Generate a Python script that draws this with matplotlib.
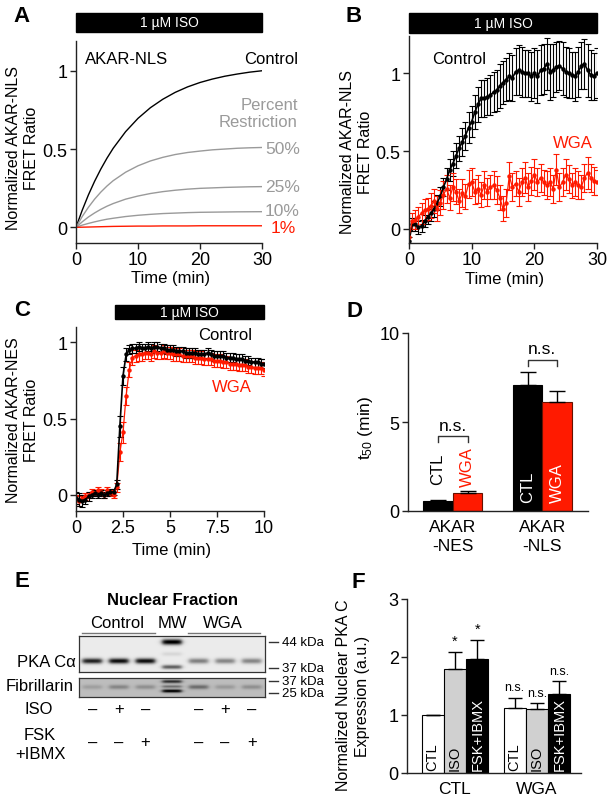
import numpy as np
import matplotlib
matplotlib.use("Agg")
import matplotlib.pyplot as plt
from matplotlib.patches import Rectangle
from matplotlib.lines import Line2D
import matplotlib.transforms as mtransforms

plt.rcParams['font.family'] = ['Liberation Sans', 'DejaVu Sans']
plt.rcParams['mathtext.fontset'] = 'custom'
plt.rcParams['mathtext.rm'] = 'Liberation Sans'
plt.rcParams['mathtext.it'] = 'Liberation Sans'

RED = '#ff1a00'
GREY = '#9a9a9a'

# ---- panel A: model curves ----
a_time = [0, 1, 2, 3, 4, 5, 6, 8, 10, 12, 14, 16, 18, 20, 22, 24, 26, 28, 30]
a_control = [0, .109, .207, .294, .372, .442, .505, .611, .696, .764, .818, .862, .897, .925, .947, .965, .979, .991, 1.0]
a_50 = [0, .069, .128, .180, .225, .264, .298, .352, .393, .424, .447, .465, .478, .487, .495, .500, .505, .508, .510]
a_25 = [0, .035, .066, .092, .115, .135, .152, .180, .200, .216, .228, .237, .244, .249, .252, .255, .257, .259, .260]
a_10 = [0, .014, .025, .035, .044, .052, .058, .069, .077, .083, .088, .091, .094, .096, .097, .098, .099, .0995, .100]
a_1 = [0, .001, .002, .003, .004, .005, .006, .007, .008, .008, .009, .009, .009, .010, .010, .010, .010, .010, .010]

# ---- panel B: AKAR-NLS traces (every 0.5 min) ----
b_ctl = [-0.08, 0.03, 0.03, 0.01, 0.02, 0.05, 0.08, 0.10, 0.13, 0.17, 0.21,
         0.27, 0.32, 0.38, 0.42, 0.47, 0.52, 0.56, 0.60, 0.65, 0.69,
         0.75, 0.80, 0.84, 0.84, 0.85, 0.86, 0.88, 0.89, 0.92, 0.94,
         0.96, 0.98, 0.97, 1.01, 1.02, 1.01, 1.00, 1.00, 0.98, 1.00,
         0.98, 1.02, 1.03, 1.06, 1.01, 1.02, 1.04, 1.05, 1.03, 1.01,
         1.00, 0.99, 0.98, 1.01, 1.05, 1.06, 1.02, 0.99, 0.98, 1.00]
b_ctl_err = [0.03, 0.04, 0.04, 0.04, 0.04, 0.04, 0.05, 0.05, 0.05,
             0.05, 0.06, 0.06, 0.07, 0.07, 0.08, 0.08, 0.08,
             0.09, 0.09, 0.10, 0.10, 0.11, 0.11, 0.12, 0.12,
             0.12, 0.13, 0.13, 0.13, 0.14, 0.14, 0.14, 0.15, 0.15,
             0.15, 0.16, 0.16, 0.15, 0.15, 0.16, 0.16, 0.17, 0.16,
             0.16, 0.17, 0.18, 0.17, 0.16, 0.16, 0.17, 0.16, 0.16,
             0.15, 0.16, 0.16, 0.15, 0.16, 0.17, 0.16, 0.15, 0.16]
b_wga = [-0.05, 0.05, 0.06, 0.08, 0.10, 0.12, 0.13, 0.15, 0.18, 0.13, 0.17,
         0.22, 0.26, 0.20, 0.27, 0.24, 0.18, 0.23, 0.21, 0.29, 0.30,
         0.24, 0.26, 0.22, 0.28, 0.24, 0.27, 0.28, 0.25, 0.20, 0.13,
         0.17, 0.34, 0.27, 0.29, 0.24, 0.30, 0.33, 0.27, 0.31, 0.35,
         0.30, 0.33, 0.30, 0.28, 0.30, 0.26, 0.38, 0.27, 0.30, 0.35,
         0.32, 0.28, 0.30, 0.28, 0.27, 0.33, 0.36, 0.33, 0.31, 0.30]
b_wga_err = [0.05, 0.05, 0.06, 0.06, 0.07, 0.07, 0.07, 0.08, 0.08, 0.08,
             0.08, 0.09, 0.09, 0.08, 0.09, 0.08, 0.08, 0.09, 0.08, 0.09,
             0.09, 0.08, 0.09, 0.08, 0.09, 0.09, 0.08, 0.09, 0.09, 0.08,
             0.08, 0.09, 0.09, 0.09, 0.08, 0.09, 0.09, 0.10, 0.09, 0.09,
             0.10, 0.09, 0.09, 0.08, 0.09, 0.09, 0.09, 0.10, 0.09, 0.09,
             0.10, 0.09, 0.08, 0.09, 0.09, 0.08, 0.09, 0.10, 0.09, 0.09,
             0.08]

# ---- panel C: AKAR-NES traces (every 10 s) ----
c_ctl = [-0.02, -0.03, -0.04, -0.03, -0.01, 0.0, 0.01, 0.0, 0.01, 0.0, 0.01, 0.02,
         0.02, 0.07, 0.45, 0.78, 0.92, 0.95,
         0.96, 0.96, 0.97, 0.96, 0.96, 0.97, 0.96, 0.97, 0.97,
         0.96, 0.96, 0.95, 0.95, 0.95, 0.94, 0.94, 0.94, 0.93,
         0.93, 0.93, 0.93, 0.92, 0.92, 0.92, 0.93, 0.92, 0.91,
         0.91, 0.91, 0.91, 0.90, 0.90, 0.90, 0.89, 0.89, 0.89,
         0.88, 0.88, 0.87, 0.87, 0.87, 0.86, 0.86]
c_ctl_err = [0.04, 0.04, 0.04, 0.03, 0.03, 0.02, 0.02, 0.02, 0.02, 0.02, 0.02, 0.02,
             0.02, 0.03, 0.07, 0.06, 0.04, 0.03,
             0.03, 0.03, 0.03, 0.03, 0.03, 0.03, 0.03, 0.03, 0.03,
             0.03, 0.03, 0.03, 0.03, 0.03, 0.03, 0.03, 0.03, 0.03,
             0.03, 0.03, 0.03, 0.03, 0.03, 0.03, 0.03, 0.03, 0.03,
             0.03, 0.03, 0.03, 0.03, 0.03, 0.03, 0.03, 0.03, 0.03,
             0.03, 0.03, 0.03, 0.03, 0.03, 0.03, 0.03]
c_wga = [-0.03, -0.04, -0.02, -0.01, 0.0, 0.02, 0.01, 0.03, 0.02, 0.0, 0.03, 0.01,
         0.0, 0.05, 0.28, 0.41, 0.65, 0.82,
         0.90, 0.91, 0.92, 0.92, 0.93, 0.93, 0.92, 0.94, 0.93,
         0.93, 0.94, 0.93, 0.93, 0.92, 0.92, 0.92, 0.91, 0.91,
         0.91, 0.91, 0.90, 0.90, 0.90, 0.89, 0.89, 0.89, 0.88,
         0.88, 0.88, 0.87, 0.87, 0.86, 0.86, 0.86, 0.85, 0.85,
         0.85, 0.84, 0.84, 0.83, 0.83, 0.83, 0.82]
c_wga_err = [0.03, 0.03, 0.02, 0.02, 0.02, 0.02, 0.02, 0.02, 0.02, 0.02, 0.02, 0.02,
             0.02, 0.03, 0.06, 0.07, 0.06, 0.05,
             0.05, 0.04, 0.04, 0.04, 0.04, 0.04, 0.04, 0.04, 0.04,
             0.04, 0.04, 0.04, 0.04, 0.04, 0.04, 0.04, 0.04, 0.04,
             0.04, 0.04, 0.04, 0.04, 0.04, 0.04, 0.04, 0.04, 0.04,
             0.04, 0.04, 0.04, 0.04, 0.04, 0.04, 0.04, 0.04, 0.04,
             0.04, 0.04, 0.04, 0.04, 0.04, 0.04, 0.04]

# ---- panel D: t50 ----
d_groups = ['AKAR\n-NES', 'AKAR\n-NLS']
d_ctl = [0.55, 7.1]
d_ctl_err = [0.05, 0.7]
d_wga = [1.0, 6.1]
d_wga_err = [0.12, 0.65]

# ---- panel E: blot band intensities (lanes: 3 control, MW, 3 WGA) ----
e_iso = ['–', '+', '–', '', '–', '+', '–']
e_fsk = ['–', '–', '+', '', '–', '–', '+']
e_pka = [0.80, 0.88, 0.88, 0.0, 0.42, 0.40, 0.40]
e_fib = [0.12, 0.22, 0.18, 0.0, 0.32, 0.14, 0.18]
e_mw_kda = ['44 kDa', '37 kDa', '37 kDa', '25 kDa']

# ---- panel F: nuclear PKA C ----
f_groups = ['CTL', 'WGA']
f_conds = ['CTL', 'ISO', 'FSK+IBMX']
f_ctl = [1.0, 1.8, 1.97]
f_ctl_err = [0.0, 0.28, 0.32]
f_wga = [1.12, 1.1, 1.36]
f_wga_err = [0.18, 0.1, 0.22]
f_ctl_sig = ['', '*', '*']
f_wga_sig = ['n.s.', 'n.s.', 'n.s.']

W, H = 611, 804
fig = plt.figure(figsize=(W / 100, H / 100), dpi=100)
TICK_FS = 13
LAB_FS = 11.5


def px_axes(x0, y0, x1, y1):
    return fig.add_axes([x0 / W, 1 - y1 / H, (x1 - x0) / W, (y1 - y0) / H])


def ftext(x, y, s, **kw):
    kw.setdefault('ha', 'center')
    kw.setdefault('va', 'center')
    return fig.text(x / W, 1 - y / H, s, **kw)


def style(ax):
    for s in ['top', 'right']:
        ax.spines[s].set_visible(False)
    for s in ['left', 'bottom']:
        ax.spines[s].set_linewidth(1.0)
        ax.spines[s].set_color('#222222')
    ax.tick_params(direction='out', length=4, width=1, color='#222222',
                   labelsize=TICK_FS, pad=2)


def iso_bar(ax, t0, t1, y0, y1, fs=10):
    tr = mtransforms.blended_transform_factory(ax.transData, fig.transFigure)
    ax.add_patch(Rectangle((t0, 1 - y1 / H), t1 - t0, (y1 - y0) / H,
                           transform=tr, color='black', clip_on=False))
    ax.text((t0 + t1) / 2, 1 - (y0 + y1) / 2 / H, '1 µM ISO', transform=tr,
            color='white', ha='center', va='center', fontsize=fs)


# ================= A =================
axA = px_axes(76, 42, 262, 244)
style(axA)
axA.plot(a_time, a_control, color='black', lw=1.0)
for ys in [a_50, a_25, a_10]:
    axA.plot(a_time, ys, color=GREY, lw=1.0)
axA.plot(a_time, a_1, color=RED, lw=1.0)
axA.set_xlim(0, 30)
axA.set_ylim(-0.1, 1.19)
axA.set_xticks([0, 10, 20, 30])
axA.set_yticks([0, 0.5, 1])
axA.set_yticklabels(['0', '0.5', '1'])
iso_bar(axA, 0, 30, 14, 33)
ftext(23, 148, 'Normalized AKAR-NLS\nFRET Ratio', rotation=90, fontsize=LAB_FS, linespacing=1.25)
ftext(171, 279, 'Time (min)', fontsize=12)
ftext(85, 60, 'AKAR-NLS', ha='left', fontsize=12)
ftext(298, 60, 'Control', ha='right', fontsize=12)
ftext(298, 114, 'Percent\nRestriction', ha='right', fontsize=12, color=GREY, linespacing=1.2)
ftext(265, 149, '50%', ha='left', fontsize=12.5, color=GREY)
ftext(265, 188, '25%', ha='left', fontsize=12.5, color=GREY)
ftext(265, 211, '10%', ha='left', fontsize=12.5, color=GREY)
ftext(271, 229, '1%', ha='left', fontsize=12.5, color=RED)
ftext(22, 17, 'A', fontsize=16, fontweight='bold')

# ================= B =================
axB = px_axes(409, 37, 597, 244)
style(axB)
tb = np.arange(len(b_ctl)) * 0.5
axB.errorbar(tb, b_ctl, yerr=b_ctl_err, fmt='-o', color='black', ms=2.2,
             lw=1.2, elinewidth=0.8, capsize=2, capthick=0.8)
axB.errorbar(tb, b_wga, yerr=b_wga_err, fmt='-o', color=RED, ms=2.2,
             lw=0.9, elinewidth=0.8, capsize=2, capthick=0.8)
axB.set_xlim(0, 30)
axB.set_ylim(-0.09, 1.24)
axB.set_xticks([0, 10, 20, 30])
axB.set_yticks([0, 0.5, 1])
axB.set_yticklabels(['0', '0.5', '1'])
iso_bar(axB, 0, 30, 14, 34)
ftext(357, 152, 'Normalized AKAR-NLS\nFRET Ratio', rotation=90, fontsize=LAB_FS, linespacing=1.25)
ftext(505, 280, 'Time (min)', fontsize=12)
ftext(459, 60, 'Control', fontsize=12)
ftext(573, 143, 'WGA', fontsize=12, color=RED)
ftext(354, 16, 'B', fontsize=16, fontweight='bold')

# ================= C =================
axC = px_axes(76, 328, 264, 512)
style(axC)
tc = np.arange(len(c_ctl)) / 6.0
axC.errorbar(tc, c_wga, yerr=c_wga_err, fmt='-o', color=RED, ms=2.2,
             lw=0.9, elinewidth=0.8, capsize=2, capthick=0.8)
axC.errorbar(tc, c_ctl, yerr=c_ctl_err, fmt='-o', color='black', ms=2.2,
             lw=1.2, elinewidth=0.8, capsize=2, capthick=0.8)
axC.set_xlim(0, 10)
axC.set_ylim(-0.105, 1.1)
axC.set_xticks([0, 2.5, 5, 7.5, 10])
axC.set_xticklabels(['0', '2.5', '5', '7.5', '10'])
axC.set_yticks([0, 0.5, 1])
axC.set_yticklabels(['0', '0.5', '1'])
iso_bar(axC, 2.07, 10, 306, 320)
ftext(23, 420, 'Normalized AKAR-NES\nFRET Ratio', rotation=90, fontsize=LAB_FS, linespacing=1.25)
ftext(172, 551, 'Time (min)', fontsize=12)
ftext(225, 335, 'Control', fontsize=12)
ftext(232, 388, 'WGA', fontsize=12, color=RED)
ftext(22, 311, 'C', fontsize=16, fontweight='bold')

# ================= D =================
axD = px_axes(408, 334, 588, 512)
style(axD)
xd = np.arange(len(d_groups))
bw = 0.33
axD.bar(xd - bw / 2, d_ctl, bw, color='black', edgecolor='black', lw=0.8)
axD.bar(xd + bw / 2, d_wga, bw, color=RED, edgecolor='#661100', lw=0.8)
axD.errorbar(xd - bw / 2, d_ctl, yerr=[np.zeros(2), d_ctl_err], fmt='none',
             ecolor='black', elinewidth=1, capsize=6, capthick=1)
axD.errorbar(xd + bw / 2, d_wga, yerr=[np.zeros(2), d_wga_err], fmt='none',
             ecolor='black', elinewidth=1, capsize=6, capthick=1)
axD.set_xlim(-0.5, 1.51)
axD.set_ylim(0, 10)
axD.set_yticks([0, 5, 10])
axD.set_xticks(xd)
axD.set_xticklabels(d_groups, fontsize=12.5, linespacing=1.3)
axD.tick_params(axis='x', length=0, pad=6)
# n.s. brackets
for i, h in enumerate([4.2, 8.5]):
    xa, xb = xd[i] - bw / 2, xd[i] + bw / 2
    axD.plot([xa, xa, xb, xb], [h - 0.35, h, h, h - 0.35], color='#333333', lw=1)
    axD.text(xd[i], h + 0.2, 'n.s.', ha='center', va='bottom', fontsize=12.5)
# bar labels
axD.text(xd[0] - bw / 2, 1.5, 'CTL', rotation=90, ha='center', va='bottom', fontsize=12)
axD.text(xd[0] + bw / 2, 1.4, 'WGA', rotation=90, ha='center', va='bottom', fontsize=12, color=RED)
axD.text(xd[1] - bw / 2, 0.5, 'CTL', rotation=90, ha='center', va='bottom', fontsize=12, color='white')
axD.text(xd[1] + bw / 2, 0.5, 'WGA', rotation=90, ha='center', va='bottom', fontsize=12, color='white')
ftext(365, 428, r'$\mathregular{t_{50}}$ (min)', rotation=90, fontsize=12.5)
ftext(355, 312, 'D', fontsize=16, fontweight='bold')

# ================= E =================
ftext(22, 582, 'E', fontsize=16, fontweight='bold')
ftext(172, 601, 'Nuclear Fraction', fontsize=12, fontweight='bold')
ftext(117, 624, 'Control', fontsize=12)
ftext(172, 624, 'MW', fontsize=12)
ftext(223, 624, 'WGA', fontsize=12)
fig.add_artist(Line2D([82 / W, 155 / W], [1 - 634 / H, 1 - 634 / H], color='#777777', lw=1))
fig.add_artist(Line2D([188 / W, 260 / W], [1 - 634 / H, 1 - 634 / H], color='#777777', lw=1))

n_lanes = len(e_pka)


def blot_image(nrows, ncols, bg, bands):
    xs = (np.arange(ncols) + 0.5) / ncols * n_lanes
    ys = np.arange(nrows) + 0.5
    img = np.full((nrows, ncols), bg)
    for lane, row, inten, sig in bands:
        px = 1 / (1 + np.exp((np.abs(xs - (lane + 0.5)) - 0.36) / 0.05))
        py = np.exp(-0.5 * ((ys - row) / sig) ** 2)
        img -= inten * np.outer(py, px)
    return np.clip(img, 0, 1)


bands1 = [(i, 25, v, 1.9) for i, v in enumerate(e_pka) if v > 0]
bands1 += [(3, 6, 0.95, 2.0), (3, 18, 0.08, 1.5), (3, 31, 0.55, 1.5)]
bands2 = [(i, 9, v, 1.6) for i, v in enumerate(e_fib) if v > 0]
bands2 += [(3, 3.5, 0.55, 1.2), (3, 13, 0.75, 1.2), (3, 8.5, 0.3, 1.0)]

axE1 = px_axes(79, 637, 265, 673)
axE1.imshow(blot_image(36, 186, 0.92, bands1), cmap='gray', vmin=0, vmax=1,
            aspect='auto', extent=(0, n_lanes, 36, 0), interpolation='bilinear')
axE2 = px_axes(79, 679, 265, 698)
axE2.imshow(blot_image(19, 186, 0.74, bands2), cmap='gray', vmin=0, vmax=1,
            aspect='auto', extent=(0, n_lanes, 19, 0), interpolation='bilinear')
for ax in (axE1, axE2):
    ax.set_xticks([])
    ax.set_yticks([])
    for s in ax.spines.values():
        s.set_linewidth(0.9)
        s.set_color('#333333')

for kda, y in zip(e_mw_kda, [643, 669, 682, 694]):
    fig.add_artist(Line2D([269 / W, 278 / W], [1 - y / H, 1 - y / H], color='#333333', lw=1))
    ftext(282, y, kda, ha='left', fontsize=9.5)

ftext(76, 663, 'PKA Cα', ha='right', fontsize=12)
ftext(74, 687, 'Fibrillarin', ha='right', fontsize=12)
ftext(39, 710, 'ISO', fontsize=12)
ftext(40, 745, 'FSK\n+IBMX', fontsize=12, linespacing=1.3)
lane_px = [79 + (265 - 79) / n_lanes * (i + 0.5) for i in range(n_lanes)]
for x, s1, s2 in zip(lane_px, e_iso, e_fsk):
    ftext(x, 710, s1, fontsize=12)
    ftext(x, 743, s2, fontsize=12)

# ================= F =================
axF = px_axes(407, 600, 581, 774)
style(axF)
xf = np.arange(len(f_groups))
fw = 0.272
cols = ['white', '#d0d0d0', 'black']
txtc = ['black', 'black', 'white']
for j in range(3):
    vals = [f_ctl[j], f_wga[j]]
    errs = [f_ctl_err[j], f_wga_err[j]]
    xx = xf + (j - 1) * fw
    axF.bar(xx, vals, fw, color=cols[j], edgecolor='black', lw=0.8)
    axF.errorbar(xx, vals, yerr=[np.zeros(2), errs], fmt='none', ecolor='black',
                 elinewidth=1, capsize=5, capthick=1)
    for k in range(2):
        axF.text(xx[k], 0.06, f_conds[j], rotation=90, ha='center', va='bottom',
                 fontsize=10.5, color=txtc[j])
    axF.text(xx[0], f_ctl[j] + f_ctl_err[j] + 0.08, f_ctl_sig[j], ha='center',
             va='bottom', fontsize=10.5)
    axF.text(xx[1], f_wga[j] + f_wga_err[j] + 0.08, f_wga_sig[j], ha='center',
             va='bottom', fontsize=9)
axF.set_xlim(-0.585, 1.537)
axF.set_ylim(0, 3)
axF.set_yticks([0, 1, 2, 3])
axF.set_xticks(xf)
axF.set_xticklabels(f_groups, fontsize=12.5)
axF.tick_params(axis='x', length=0, pad=6)
ftext(343, 695, 'Normalized Nuclear PKA C', rotation=90, fontsize=LAB_FS)
ftext(363, 696, 'Expression (a.u.)', rotation=90, fontsize=LAB_FS)
ftext(358, 583, 'F', fontsize=16, fontweight='bold')

fig.savefig('out.png', dpi=100)
